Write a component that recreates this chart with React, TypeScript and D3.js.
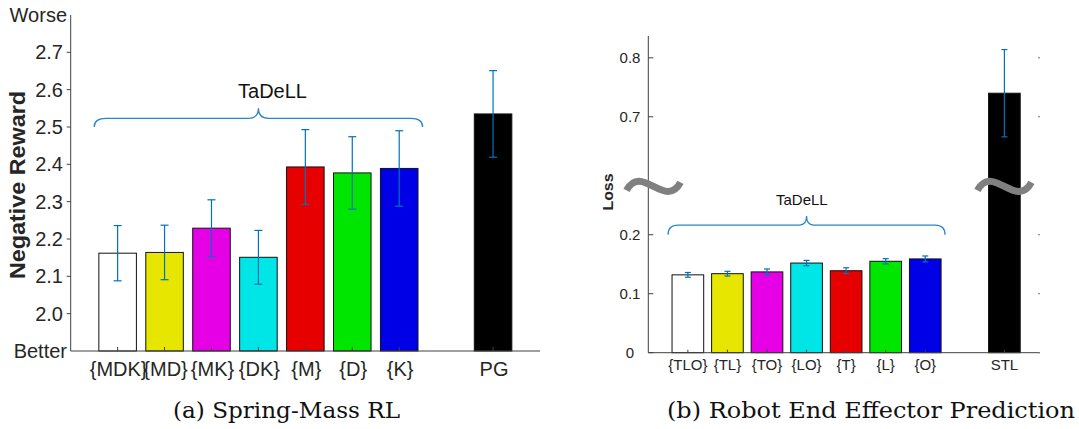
import React from "react";
import * as d3 from "d3";

// ---------- Data: (a) Spring-Mass RL ----------
const leftCategories = ["{MDK}", "{MD}", "{MK}", "{DK}", "{M}", "{D}", "{K}", "PG"];
const leftPositions = [1, 2, 3, 4, 5, 6, 7, 9];
const leftValues = [2.162, 2.164, 2.229, 2.151, 2.393, 2.377, 2.389, 2.535];
const leftErrors = [0.074, 0.073, 0.076, 0.072, 0.1, 0.097, 0.101, 0.116];
const leftTicks = [2.0, 2.1, 2.2, 2.3, 2.4, 2.5, 2.6, 2.7];
const leftEndLabels = ["Better", "Worse"];

// ---------- Data: (b) Robot End Effector Prediction ----------
const rightCategories = ["{TLO}", "{TL}", "{TO}", "{LO}", "{T}", "{L}", "{O}", "STL"];
const rightPositions = [1, 2, 3, 4, 5, 6, 7, 9];
const rightValues = [0.132, 0.134, 0.137, 0.152, 0.139, 0.155, 0.159, 0.74];
const rightErrors = [0.004, 0.004, 0.005, 0.0045, 0.005, 0.0045, 0.005, 0.074];
const rightTicks = [0, 0.1, 0.2, 0.7, 0.8];
const rightBreakGap = 0.3; // values above the break are drawn shifted down by this

const barColors = ["#FFFFFF", "#E6E600", "#E600E6", "#00E6E6", "#E60000", "#00E600", "#0000E6", "#000000"];

const groupLabel = "TaDeLL";

const SANS = "'Liberation Sans', Arial, Helvetica, sans-serif";
const SERIF = "'DejaVu Serif', serif";
const ERR = "#0072BD";
const AXIS = "#404040";
const TXT = "#262626";

function bracePath(x0: number, x1: number, xm: number, yEnd: number, yFlat: number, yTip: number, r: number, r2: number) {
  const p = d3.path();
  p.moveTo(x0, yEnd);
  p.quadraticCurveTo(x0, yFlat, x0 + r, yFlat);
  p.lineTo(xm - r2, yFlat);
  p.quadraticCurveTo(xm, yFlat, xm, yTip);
  p.quadraticCurveTo(xm, yFlat, xm + r2, yFlat);
  p.lineTo(x1 - r, yFlat);
  p.quadraticCurveTo(x1, yFlat, x1, yEnd);
  return p.toString();
}

function breakPath(cx: number, cy: number) {
  const p = d3.path();
  p.moveTo(cx - 27, cy + 4);
  p.bezierCurveTo(cx - 12, cy - 24, cx + 12, cy + 24, cx + 27, cy - 4);
  return p.toString();
}

function LeftChart() {
  const x = d3.scaleLinear().domain([0, 10]).range([70.7, 540]);
  const y = d3.scaleLinear().domain([1.9, 2.8]).range([351, 15]);
  const bw = x(0.8) - x(0);
  const capW = 8;
  return (
    <g>
      {leftValues.map((v, i) => (
        <rect key={"b" + i} x={x(leftPositions[i]) - bw / 2} y={y(v)} width={bw} height={y(1.9) - y(v)}
          fill={barColors[i]} stroke="#111" strokeWidth={1} />
      ))}
      {leftValues.map((v, i) => {
        const cx = x(leftPositions[i]);
        const t = y(v + leftErrors[i]);
        const b = y(v - leftErrors[i]);
        return (
          <g key={"e" + i} stroke={ERR} strokeWidth={1.2}>
            <line x1={cx} x2={cx} y1={t} y2={b} />
            <line x1={cx - capW / 2} x2={cx + capW / 2} y1={t} y2={t} />
            <line x1={cx - capW / 2} x2={cx + capW / 2} y1={b} y2={b} />
          </g>
        );
      })}
      {/* axes */}
      <line x1={x(0)} x2={x(0)} y1={y(2.8)} y2={y(1.9)} stroke={AXIS} strokeWidth={1} />
      <line x1={x(0)} x2={x(10)} y1={y(1.9)} y2={y(1.9)} stroke={AXIS} strokeWidth={1} />
      {leftTicks.map((t) => (
        <g key={"yt" + t}>
          <line x1={x(0) - 4} x2={x(0)} y1={y(t)} y2={y(t)} stroke={AXIS} />
          <text x={63} y={y(t)} dy="0.35em" textAnchor="end" fontSize={20} fontFamily={SANS} fill={TXT}>
            {t.toFixed(1)}
          </text>
        </g>
      ))}
      <text x={67} y={y(1.9)} dy="0.35em" textAnchor="end" fontSize={20} fontFamily={SANS} fill={TXT}>{leftEndLabels[0]}</text>
      <text x={67} y={y(2.8)} dy="0.35em" textAnchor="end" fontSize={20} fontFamily={SANS} fill={TXT}>{leftEndLabels[1]}</text>
      {leftCategories.map((c, i) => (
        <g key={"xt" + i}>
          <line x1={x(leftPositions[i])} x2={x(leftPositions[i])} y1={y(1.9)} y2={y(1.9) - 4} stroke={AXIS} />
          <text x={x(leftPositions[i]) + 1} y={376} textAnchor="middle" fontSize={20} fontFamily={SANS} fill={TXT}>{c}</text>
        </g>
      ))}
      <text transform={`translate(25,185) rotate(-90)`} textAnchor="middle" fontSize={22} fontWeight="bold"
        fontFamily={SANS} fill={TXT} textLength={188} lengthAdjust="spacingAndGlyphs">Negative Reward</text>
      {/* brace */}
      <path d={bracePath(x(0.5), x(7.5), x(4), y(2.5), y(2.523), y(2.55), 12, 10)} fill="none" stroke="#2a86cc" strokeWidth={1.3} />
      <text x={x(4.3)} y={y(2.577)} textAnchor="middle" fontSize={20} fontFamily={SANS} fill="#111">{groupLabel}</text>
      <text x={286.5} y={418} textAnchor="middle" fontSize={22} fontFamily={SERIF} fill="#111"
        textLength={227} lengthAdjust="spacingAndGlyphs">(a) Spring-Mass RL</text>
    </g>
  );
}

function RightChart() {
  const x = d3.scaleLinear().domain([0, 9.9]).range([648.3, 1040]);
  const y = d3.scaleLinear().domain([0, 0.537]).range([352.7, 36]);
  const disp = (v: number) => (v > 0.5 ? v - rightBreakGap : v);
  const bw = x(0.8) - x(0);
  const capW = 6;
  const breakY = y(0.282);
  return (
    <g>
      {rightValues.map((v, i) => (
        <rect key={"b" + i} x={x(rightPositions[i]) - bw / 2} y={y(disp(v))} width={bw} height={y(0) - y(disp(v))}
          fill={barColors[i]} stroke="#111" strokeWidth={1} />
      ))}
      {rightValues.map((v, i) => {
        const cx = x(rightPositions[i]);
        const t = y(disp(v + rightErrors[i]));
        const b = y(disp(v - rightErrors[i]));
        return (
          <g key={"e" + i} stroke={ERR} strokeWidth={1.2}>
            <line x1={cx} x2={cx} y1={t} y2={b} />
            <line x1={cx - capW / 2} x2={cx + capW / 2} y1={t} y2={t} />
            <line x1={cx - capW / 2} x2={cx + capW / 2} y1={b} y2={b} />
          </g>
        );
      })}
      <line x1={x(0)} x2={x(0)} y1={y(0.537)} y2={y(0)} stroke={AXIS} strokeWidth={1} />
      <line x1={x(0)} x2={x(9.9)} y1={y(0)} y2={y(0)} stroke={AXIS} strokeWidth={1} />
      {rightTicks.map((t) => (
        <g key={"yt" + t}>
          <line x1={x(0)} x2={x(0) + 5} y1={y(disp(t))} y2={y(disp(t))} stroke={AXIS} />
          <line x1={x(9.9) - 2} x2={x(9.9)} y1={y(disp(t))} y2={y(disp(t))} stroke="#777" />
          <text x={630} y={y(disp(t))} dy="0.35em" textAnchor="middle" fontSize={15} fontFamily={SANS} fill={TXT}>
            {t === 0 ? "0" : t.toFixed(1)}
          </text>
        </g>
      ))}
      {rightCategories.map((c, i) => (
        <g key={"xt" + i}>
          <line x1={x(rightPositions[i])} x2={x(rightPositions[i])} y1={y(0)} y2={y(0) - 3} stroke={AXIS} />
          <text x={x(rightPositions[i])} y={370} textAnchor="middle" fontSize={15} fontFamily={SANS} fill={TXT}>{c}</text>
        </g>
      ))}
      <text transform={`translate(613,192) rotate(-90)`} textAnchor="middle" fontSize={15.5} fontWeight="bold"
        fontFamily={SANS} fill={TXT} textLength={37} lengthAdjust="spacingAndGlyphs">Loss</text>
      <path d={bracePath(x(0.5), x(7.5), x(4), y(0.2), y(0.2164), y(0.2317), 10, 7)} fill="none" stroke="#2a86cc" strokeWidth={1.3} />
      <text x={x(3.88)} y={y(0.25)} textAnchor="middle" fontSize={15} fontFamily={SANS} fill="#111">{groupLabel}</text>
      {/* axis break marks */}
      <path d={breakPath(653.5, breakY)} fill="none" stroke="#808080" strokeWidth={7} />
      <path d={breakPath(x(9), breakY)} fill="none" stroke="#808080" strokeWidth={7} />
      <text x={871} y={418} textAnchor="middle" fontSize={22} fontFamily={SERIF} fill="#111"
        textLength={408} lengthAdjust="spacingAndGlyphs">(b) Robot End Effector Prediction</text>
    </g>
  );
}

export default function App() {
  return (
    <svg width={1079} height={429} viewBox="0 0 1079 429"
      style={{ position: "absolute", left: 0, top: 0, background: "#fff" }}>
      <rect x={0} y={0} width={1079} height={429} fill="#fff" />
      <LeftChart />
      <RightChart />
    </svg>
  );
}
